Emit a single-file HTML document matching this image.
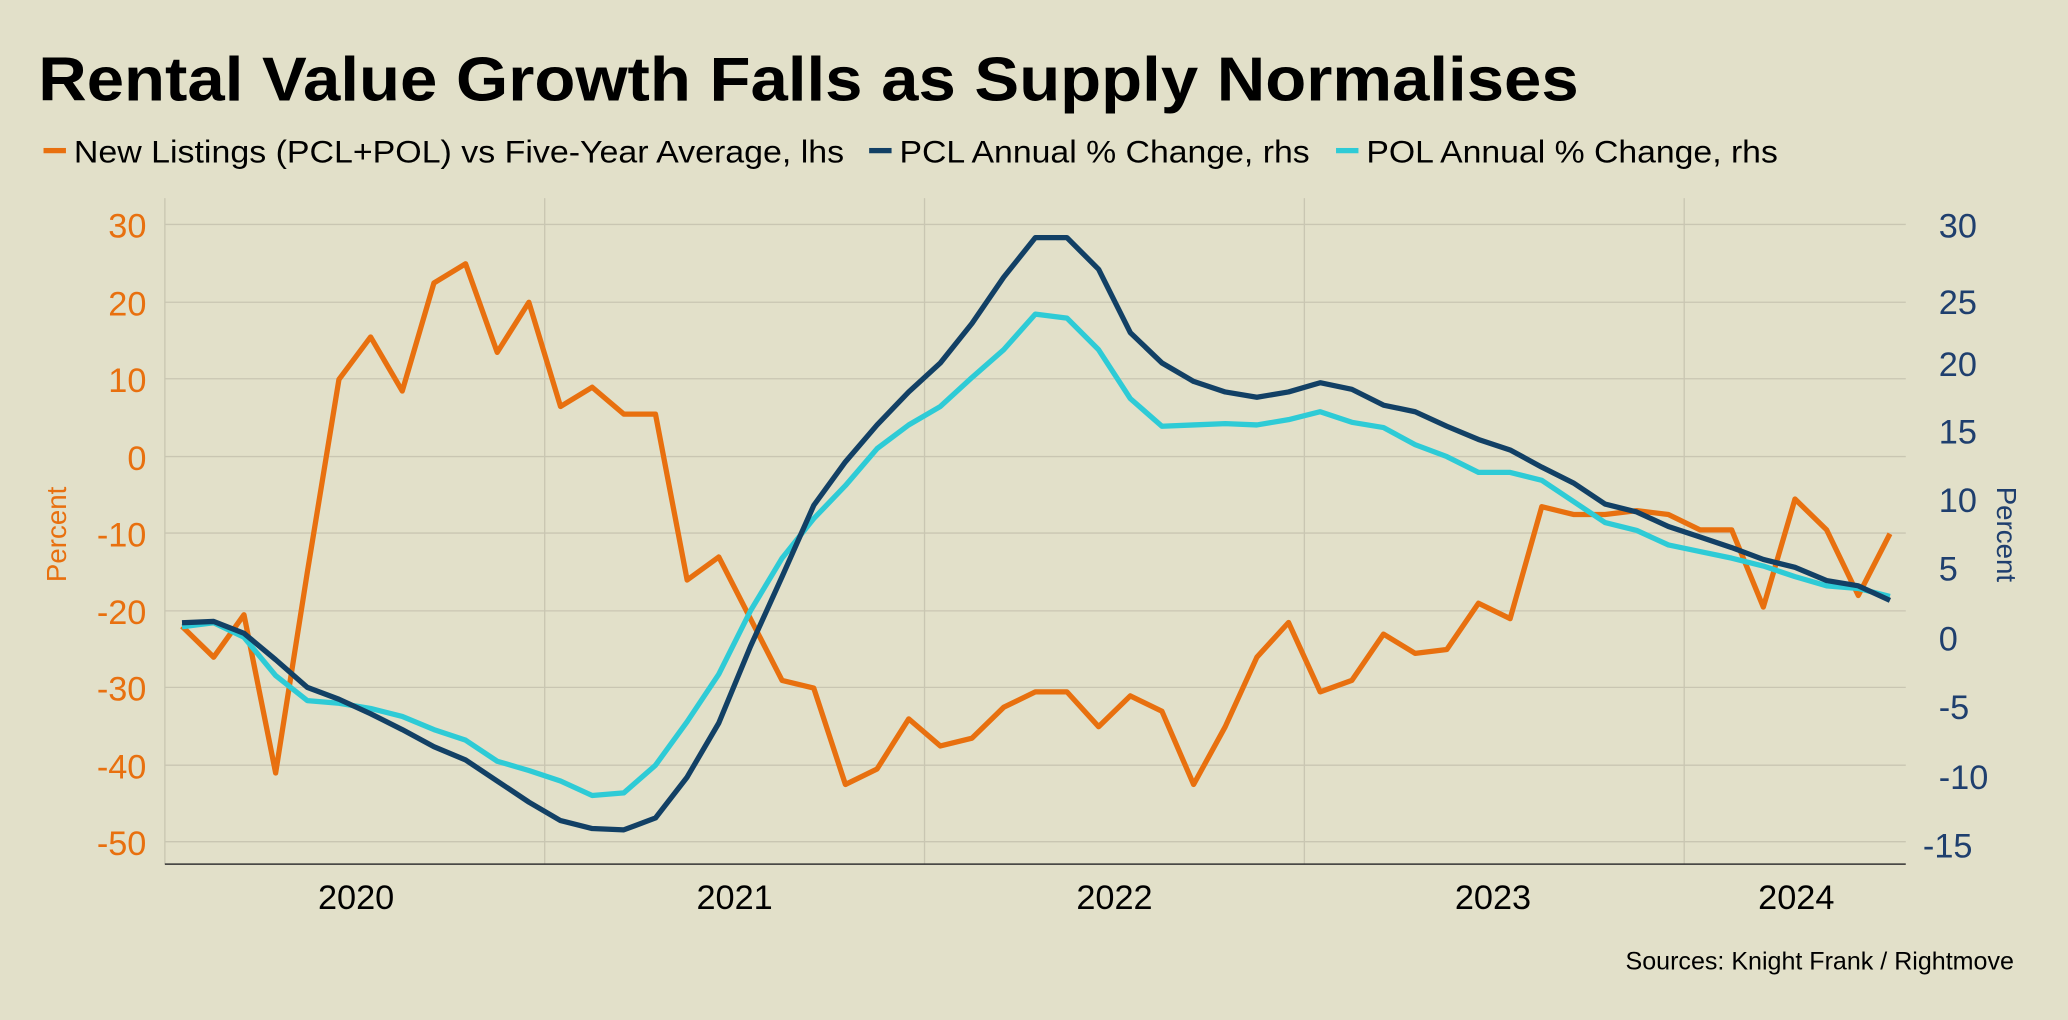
<!DOCTYPE html>
<html><head><meta charset="utf-8"><style>
html,body{margin:0;padding:0;background:#E2E0C9;}
svg{display:block;}
text{font-family:"Liberation Sans",Arial,sans-serif;}
</style></head><body>
<svg width="2068" height="1020" viewBox="0 0 1568 773" xmlns="http://www.w3.org/2000/svg">
<rect width="1568" height="773" fill="#E2E0C9"/>
<text x="29" y="76" font-size="47" font-weight="bold" fill="#000" textLength="1168" lengthAdjust="spacingAndGlyphs">Rental Value Growth Falls as Supply Normalises</text>
<rect x="33" y="112" width="17" height="4" fill="#E8700F"/>
<text x="56" y="123" font-size="24" fill="#000" textLength="584" lengthAdjust="spacingAndGlyphs">New Listings (PCL+POL) vs Five-Year Average, lhs</text>
<rect x="659" y="112" width="17" height="4" fill="#124065"/>
<text x="682" y="123" font-size="24" fill="#000" textLength="311" lengthAdjust="spacingAndGlyphs">PCL Annual % Change, rhs</text>
<rect x="1013" y="112" width="17" height="4" fill="#2ECBD6"/>
<text x="1036" y="123" font-size="24" fill="#000" textLength="312" lengthAdjust="spacingAndGlyphs">POL Annual % Change, rhs</text>
<g stroke="#C9C6B2" stroke-width="1">
<line x1="125" y1="170" x2="1445" y2="170"/><line x1="125" y1="229" x2="1445" y2="229"/>
<line x1="125" y1="287" x2="1445" y2="287"/><line x1="125" y1="346" x2="1445" y2="346"/>
<line x1="125" y1="404" x2="1445" y2="404"/><line x1="125" y1="463" x2="1445" y2="463"/>
<line x1="125" y1="521" x2="1445" y2="521"/><line x1="125" y1="580" x2="1445" y2="580"/>
<line x1="125" y1="638" x2="1445" y2="638"/>
<line x1="125" y1="150" x2="125" y2="655"/><line x1="413" y1="150" x2="413" y2="655"/>
<line x1="701" y1="150" x2="701" y2="655"/><line x1="989" y1="150" x2="989" y2="655"/>
<line x1="1277" y1="150" x2="1277" y2="655"/>
</g>
<line x1="125" y1="655" x2="1445" y2="655" stroke="#333" stroke-width="1.2"/>
<g font-size="26" fill="#E8700F" text-anchor="end">
<text x="111" y="180">30</text><text x="111" y="239">20</text><text x="111" y="297">10</text>
<text x="111" y="356">0</text><text x="111" y="414">-10</text><text x="111" y="473">-20</text>
<text x="111" y="531">-30</text><text x="111" y="590">-40</text><text x="111" y="648">-50</text>
</g>
<g font-size="26" fill="#1F3F6E" text-anchor="start">
<text x="1470" y="180">30</text><text x="1470" y="238">25</text><text x="1470" y="285">20</text>
<text x="1470" y="336">15</text><text x="1470" y="388">10</text><text x="1470" y="440">5</text>
<text x="1470" y="493">0</text><text x="1470" y="545">-5</text><text x="1470" y="598">-10</text>
<text x="1458" y="650">-15</text>
</g>
<text transform="translate(50,405) rotate(-90)" font-size="21" fill="#E8700F" text-anchor="middle">Percent</text>
<text transform="translate(1514,405) rotate(90)" font-size="21" fill="#1F3F6E" text-anchor="middle">Percent</text>
<g font-size="26" fill="#000" text-anchor="middle">
<text x="270" y="689">2020</text><text x="557" y="689">2021</text><text x="845" y="689">2022</text>
<text x="1132" y="689">2023</text><text x="1362" y="689">2024</text>
</g>
<text x="1527" y="735" font-size="19" fill="#000" text-anchor="end">Sources: Knight Frank / Rightmove</text>
<g fill="none" stroke-width="4" stroke-linejoin="round">
<polyline stroke="#E8700F" points="138,474.7 162,498.1 185,465.9 209,585.9 233,433.8 257,287.5 281,255.3 305,296.3 329,214.4 353,199.8 377,267.0 401,229.0 425,308.0 449,293.4 473,313.8 497,313.8 521,439.6 545,422.1 569,468.9 593,515.7 617,521.5 641,594.6 665,582.9 689,544.9 713,565.4 737,559.5 761,536.1 785,524.4 809,524.4 833,550.8 857,527.4 881,539.1 905,594.6 929,550.8 953,498.1 977,471.8 1001,524.4 1025,515.7 1049,480.6 1073,495.2 1097,492.3 1121,457.2 1145,468.9 1169,384.0 1193,389.9 1217,389.9 1241,387.0 1265,389.9 1289,401.6 1313,401.6 1337,460.1 1361,378.2 1385,401.6 1409,451.3 1433,404.5"/>
<polyline stroke="#2ECBD6" points="138,475 162,472 185,483 209,512 233,531 257,533 281,537 305,543 329,553 353,561 377,577 401,584 425,592 449,603 473,601 497,580 521,547 545,511 569,463 593,423 617,393 641,368 665,340 689,322 713,308 737,286 761,265 785,238 809,241 833,265 857,302 881,323 905,322 929,321 953,322 977,318 1001,312 1025,320 1049,324 1073,337 1097,346 1121,358 1145,358 1169,364 1193,380 1217,396 1241,402 1265,413 1289,418 1313,423 1337,429 1361,437 1385,444 1409,446 1433,452"/>
<polyline stroke="#124065" points="138,472 162,471 185,480 209,500 233,521 257,530 281,541 305,553 329,566 353,576 377,592 401,608 425,622 449,628 473,629 497,620 521,589 545,548 569,490 593,437 617,383 641,350 665,322 689,297 713,275 737,245 761,210 785,180 809,180 833,204 857,252 881,275 905,289 929,297 953,301 977,297 1001,290 1025,295 1049,307 1073,312 1097,323 1121,333 1145,341 1169,354 1193,366 1217,382 1241,388 1265,399 1289,407 1313,415 1337,424 1361,430 1385,440 1409,444 1433,455"/>
</g>
</svg>
</body></html>
